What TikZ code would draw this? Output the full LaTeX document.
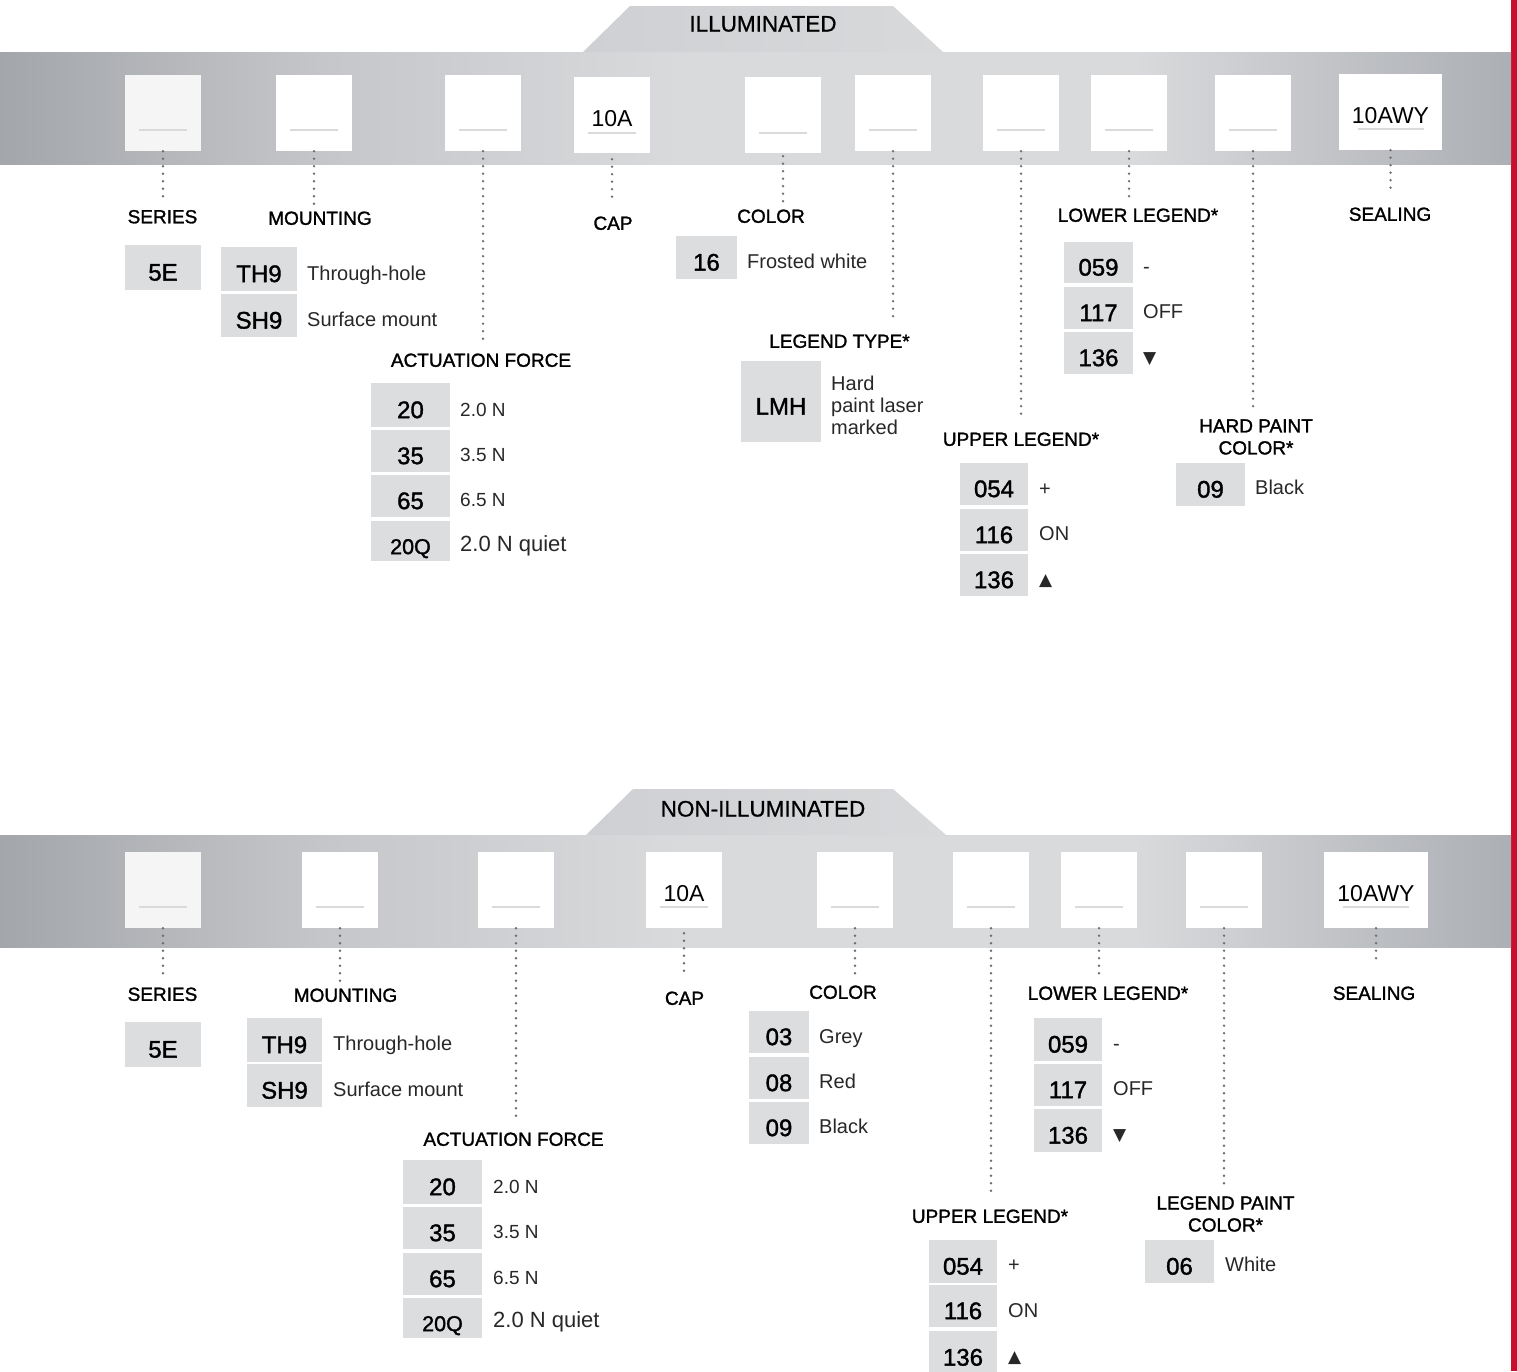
\documentclass[tikz,border=0pt]{standalone}
\usepackage{fontspec}
\setmainfont{Liberation Sans}
\newfontfamily\lblfont[FakeBold=1.4]{Liberation Sans}
\newfontfamily\hdrfont[FakeBold=0.8]{Liberation Sans}
\newfontfamily\symfont{DejaVu Sans}
\usetikzlibrary{calc}
\definecolor{bandL}{RGB}{163,166,171}
\definecolor{bandA}{RGB}{198,199,202}
\definecolor{bandM}{RGB}{217,218,220}
\definecolor{bandR}{RGB}{172,175,180}
\definecolor{tabC}{RGB}{216,217,219}
\definecolor{tabL}{RGB}{207,208,211}
\definecolor{optgray}{RGB}{220,221,223}
\definecolor{dotgray}{RGB}{110,110,110}
\definecolor{ulgray}{RGB}{218,218,218}
\definecolor{brandred}{RGB}{200,16,46}
\definecolor{desccol}{RGB}{40,40,40}
\definecolor{offwhite}{RGB}{245,245,245}
\pgfdeclarehorizontalshading{bandshade}{100bp}{color(0bp)=(bandL); color(25bp)=(bandL); color(36bp)=(bandA); color(47.5bp)=(bandM); color(62.5bp)=(bandM); color(75bp)=(bandR); color(100bp)=(bandR)}
\tikzset{
  slot/.style={fill=white, inner sep=0pt, minimum width=76pt, minimum height=76pt,
    font=\fontsize{23}{26}\selectfont, text=black, text height=23.5pt, text depth=0pt},
  uline/.style={draw=ulgray, line width=2.5pt},
  dotline/.style={draw=dotgray, line width=2.6pt, line cap=round, dash pattern=on 0pt off 7.5pt},
  optbox/.style={fill=optgray, inner sep=0pt, font=\lblfont\fontsize{24}{27}\selectfont,
    text=black, text height=26.2pt, text depth=0pt},
  desc/.style={anchor=west, inner sep=0pt, font=\fontsize{20}{22}\selectfont, text=desccol,
    text height=14.4pt, text depth=0pt},
  desctwo/.style={anchor=west, inner sep=0pt, align=left, font=\fontsize{20}{22}\selectfont, text=desccol},
  lbl/.style={inner sep=0pt, font=\lblfont\fontsize{19}{22}\selectfont, text=black,
    text height=13.6pt, text depth=0pt},
  lbltwo/.style={inner sep=0pt, align=center, font=\lblfont\fontsize{19}{22}\selectfont, text=black},
  hdr/.style={inner sep=0pt, font=\hdrfont\fontsize{22.5}{26}\selectfont, text=black,
    text height=16.1pt, text depth=0pt},
  band/.style={shading=bandshade},
  tab/.style={left color=tabL, right color=tabC},
}
\newcommand{\obox}[6]{\node[optbox, minimum width={#4-#2}, minimum height={#5-#3}] (#1) at ({(#2+#4)/2},{(#3+#5)/2}) {#6};}
\newcommand{\odesc}[4]{\node[desc] (#1) at (#2,#3) {#4};}
\begin{document}
\begin{tikzpicture}[x=1pt,y=-1pt]
\useasboundingbox (0,0) rectangle (1517,1371);
\fill[white] (0,0) rectangle (1517,1371);
\fill[brandred] (1511,0) rectangle (1517,1371);

%================ ILLUMINATED =================
\shade[band] (0,52) rectangle (1511,164);
\shade[tab] (583,52) -- (630,6) -- (893,6) -- (943,52) -- cycle;
\node[hdr] (hdrA) at (763,23.5) {ILLUMINATED};

\node[slot, fill=offwhite] (ts1) at (163,113) {};
\node[slot] (ts2) at (314,113) {};
\node[slot] (ts3) at (483,113) {};
\node[slot] (ts4) at (612,115) {10A};
\node[slot] (ts5) at (783,115) {};
\node[slot] (ts6) at (893,113) {};
\node[slot] (ts7) at (1021,113) {};
\node[slot] (ts8) at (1129,113) {};
\node[slot] (ts9) at (1253,113) {};
\node[slot, minimum width=103pt] (ts10) at (1390.5,112) {10AWY};
\foreach \s in {ts1,ts2,ts3,ts6,ts7,ts8,ts9}{\draw[uline] ($(\s.center)+(-24,17)$) -- ++(48,0);}
\foreach \s in {ts4,ts5}{\draw[uline] ($(\s.center)+(-24,18)$) -- ++(48,0);}
\draw[uline] ($(ts10.center)+(-33,17)$) -- ++(66,0);

\node[lbl] (tLse) at (162.5,216.5) {SERIES};
\node[lbl] (tLm) at (320,218) {MOUNTING};
\node[lbl] (tLa) at (481,360) {ACTUATION FORCE};
\node[lbl] (tLc) at (613,223) {CAP};
\node[lbl] (tLco) at (771,216) {COLOR};
\node[lbl] (tLt) at (839.5,341) {LEGEND TYPE*};
\node[lbl] (tLu) at (1021,439) {UPPER LEGEND*};
\node[lbl] (tLlo) at (1138,215) {LOWER LEGEND*};
\node[lbltwo] (tLh) at (1256,437) {HARD PAINT\\COLOR*};
\node[lbl] (tLs) at (1390,214) {SEALING};

\draw[dotline, shorten >=11pt] (ts1.south) -- (ts1.south |- tLse.north);
\draw[dotline, shorten >=7pt] (ts2.south) -- (ts2.south |- tLm.north);
\draw[dotline, shorten >=8pt] (ts3.south) -- (ts3.south |- tLa.north);
\draw[dotline, shorten <=6pt, shorten >=13pt] (ts4.south) -- (ts4.south |- tLc.north);
\draw[dotline, shorten <=3pt, shorten >=6pt] (ts5.south) -- (ts5.south |- tLco.north);
\draw[dotline, shorten >=13pt] (ts6.south) -- (ts6.south |- tLt.north);
\draw[dotline, shorten >=14pt] (ts7.south) -- (ts7.south |- tLu.north);
\draw[dotline, shorten >=10pt] (ts8.south) -- (ts8.south |- tLlo.north);
\draw[dotline, shorten >=11pt] (ts9.south) -- (ts9.south |- tLh.north);
\draw[dotline, shorten >=19pt] (ts10.south) -- (ts10.south |- tLs.north);

\obox{tse}{125}{245}{201}{290}{5E}
\obox{tm1}{221}{247}{297}{291}{TH9}\odesc{tm1d}{307}{273}{Through-hole}
\obox{tm2}{221}{294}{297}{337}{SH9}\odesc{tm2d}{307}{319}{Surface mount}
\obox{ta1}{371}{383}{450}{427}{20}\odesc{ta1d}{460}{409}{\fontsize{19}{22}\selectfont 2.0 N}
\obox{ta2}{371}{430}{450}{472}{35}\odesc{ta2d}{460}{454}{\fontsize{19}{22}\selectfont 3.5 N}
\obox{ta3}{371}{475}{450}{517}{65}\odesc{ta3d}{460}{499}{\fontsize{19}{22}\selectfont 6.5 N}
\obox{ta4}{371}{521}{450}{561}{\fontsize{21.5}{24}\selectfont 20Q}\odesc{ta4d}{460}{544}{\fontsize{22}{24}\selectfont 2.0 N quiet}
\obox{tc1}{676}{236}{737}{279}{16}\odesc{tc1d}{747}{261}{Frosted white}
\obox{tl1}{741}{361}{821}{442}{LMH}
\node[desctwo] (tl1d) at (831,405) {Hard\\paint laser\\marked};
\obox{tlo1}{1064}{242}{1133}{283}{059}\odesc{tlo1d}{1143}{266}{-}
\obox{tlo2}{1064}{287}{1133}{329}{117}\odesc{tlo2d}{1143}{311}{OFF}
\obox{tlo3}{1064}{332}{1133}{374}{136}\odesc{tlo3d}{1143}{356}{\symfont\fontsize{17}{20}\selectfont ▼}
\obox{tu1}{960}{463}{1028}{505}{054}\odesc{tu1d}{1039}{488}{+}
\obox{tu2}{960}{509}{1028}{551}{116}\odesc{tu2d}{1039}{533}{ON}
\obox{tu3}{960}{554}{1028}{596}{136}\odesc{tu3d}{1039}{578}{\symfont\fontsize{17}{20}\selectfont ▲}
\obox{th1}{1176}{463}{1245}{506}{09}\odesc{th1d}{1255}{487}{Black}

%================ NON-ILLUMINATED =================
\shade[band] (0,835) rectangle (1511,947);
\shade[tab] (586,835) -- (633,789) -- (893,789) -- (946,835) -- cycle;
\node[hdr] (hdrB) at (763,808.5) {NON-ILLUMINATED};

\node[slot, fill=offwhite] (bs1) at (163,890) {};
\node[slot] (bs2) at (340,890) {};
\node[slot] (bs3) at (516,890) {};
\node[slot] (bs4) at (684,890) {10A};
\node[slot] (bs5) at (855,890) {};
\node[slot] (bs6) at (991,890) {};
\node[slot] (bs7) at (1099,890) {};
\node[slot] (bs8) at (1224,890) {};
\node[slot, minimum width=104pt] (bs9) at (1376,890) {10AWY};
\foreach \s in {bs1,bs2,bs3,bs4,bs5,bs6,bs7,bs8}{\draw[uline] ($(\s.center)+(-24,17)$) -- ++(48,0);}
\draw[uline] ($(bs9.center)+(-33,17)$) -- ++(66,0);

\node[lbl] (bLse) at (162.5,994) {SERIES};
\node[lbl] (bLm) at (345.5,995) {MOUNTING};
\node[lbl] (bLa) at (513.5,1139) {ACTUATION FORCE};
\node[lbl] (bLc) at (684.5,998) {CAP};
\node[lbl] (bLco) at (843,992) {COLOR};
\node[lbl] (bLu) at (990,1216) {UPPER LEGEND*};
\node[lbl] (bLlo) at (1108,993) {LOWER LEGEND*};
\node[lbltwo] (bLp) at (1225.5,1214) {LEGEND PAINT\\COLOR*};
\node[lbl] (bLs) at (1374,993) {SEALING};

\draw[dotline, shorten >=12pt] (bs1.south) -- (bs1.south |- bLse.north);
\draw[dotline, shorten >=7pt] (bs2.south) -- (bs2.south |- bLm.north);
\draw[dotline, shorten >=9pt] (bs3.south) -- (bs3.south |- bLa.north);
\draw[dotline, shorten <=5pt, shorten >=14pt] (bs4.south) -- (bs4.south |- bLc.north);
\draw[dotline, shorten >=8pt] (bs5.south) -- (bs5.south |- bLco.north);
\draw[dotline, shorten >=14pt] (bs6.south) -- (bs6.south |- bLu.north);
\draw[dotline, shorten >=11pt] (bs7.south) -- (bs7.south |- bLlo.north);
\draw[dotline, shorten >=11pt] (bs8.south) -- (bs8.south |- bLp.north);
\draw[dotline, shorten >=21pt] (bs9.south) -- (bs9.south |- bLs.north);

\obox{bse}{125}{1022}{201}{1067}{5E}
\obox{bm1}{247}{1018}{322}{1062}{TH9}\odesc{bm1d}{333}{1043}{Through-hole}
\obox{bm2}{247}{1064}{322}{1107}{SH9}\odesc{bm2d}{333}{1089}{Surface mount}
\obox{ba1}{403}{1160}{482}{1204}{20}\odesc{ba1d}{493}{1186}{\fontsize{19}{22}\selectfont 2.0 N}
\obox{ba2}{403}{1207}{482}{1249}{35}\odesc{ba2d}{493}{1231}{\fontsize{19}{22}\selectfont 3.5 N}
\obox{ba3}{403}{1253}{482}{1295}{65}\odesc{ba3d}{493}{1277}{\fontsize{19}{22}\selectfont 6.5 N}
\obox{ba4}{403}{1298}{482}{1338}{\fontsize{21.5}{24}\selectfont 20Q}\odesc{ba4d}{493}{1320}{\fontsize{22}{24}\selectfont 2.0 N quiet}
\obox{bc1}{749}{1011}{809}{1053}{03}\odesc{bc1d}{819}{1036}{Grey}
\obox{bc2}{749}{1057}{809}{1099}{08}\odesc{bc2d}{819}{1081}{Red}
\obox{bc3}{749}{1102}{809}{1144}{09}\odesc{bc3d}{819}{1126}{Black}
\obox{blo1}{1034}{1018}{1102}{1061}{059}\odesc{blo1d}{1113}{1043}{-}
\obox{blo2}{1034}{1064}{1102}{1106}{117}\odesc{blo2d}{1113}{1088}{OFF}
\obox{blo3}{1034}{1109}{1102}{1152}{136}\odesc{blo3d}{1113}{1133}{\symfont\fontsize{17}{20}\selectfont ▼}
\obox{bu1}{929}{1240}{997}{1283}{054}\odesc{bu1d}{1008}{1264}{+}
\obox{bu2}{929}{1285}{997}{1327}{116}\odesc{bu2d}{1008}{1310}{ON}
\obox{bu3}{929}{1331}{997}{1374}{136}\odesc{bu3d}{1008}{1355}{\symfont\fontsize{17}{20}\selectfont ▲}
\obox{bp1}{1145}{1240}{1214}{1283}{06}\odesc{bp1d}{1225}{1264}{White}
\end{tikzpicture}
\end{document}
